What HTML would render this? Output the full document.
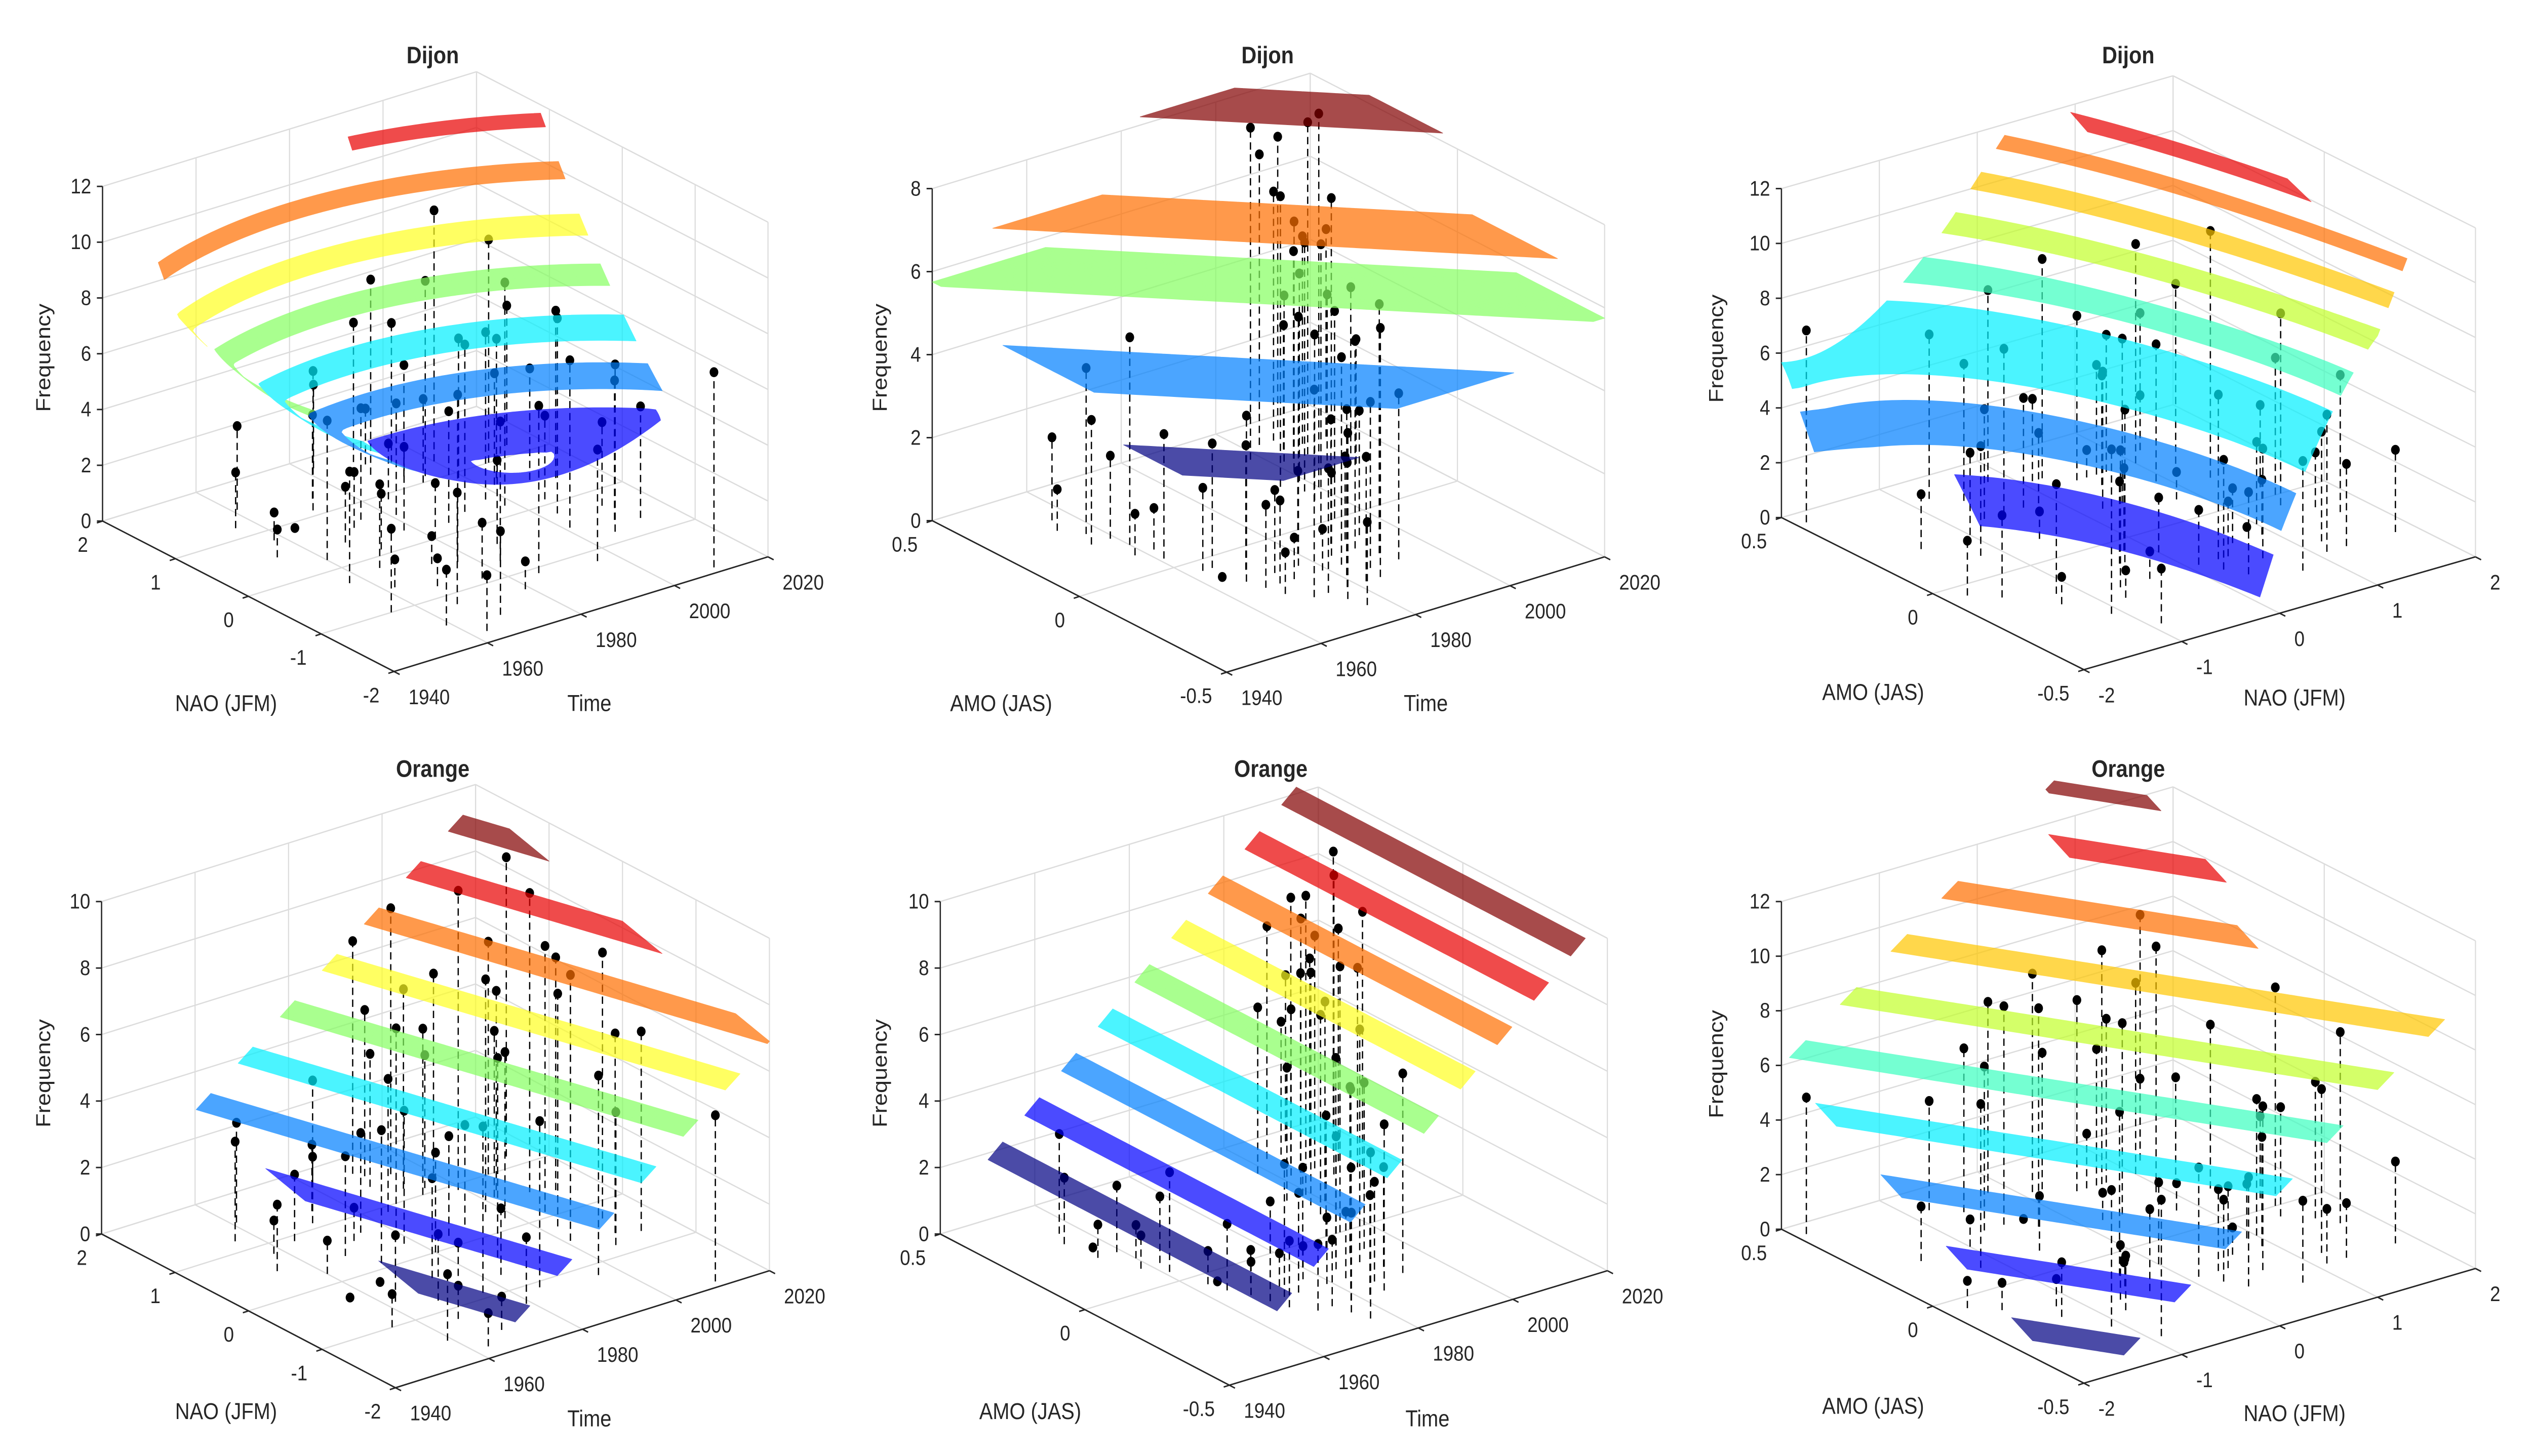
<!DOCTYPE html>
<html><head><meta charset="utf-8">
<style>
html,body{margin:0;padding:0;background:#fff;overflow:hidden;width:100%;height:100%;}
svg{display:block;width:100vw;height:100vh;}
text{font-family:"Liberation Sans",Arial,sans-serif;fill:#262626;}
</style></head>
<body>
<svg id="fig" xmlns="http://www.w3.org/2000/svg" viewBox="0 0 1568 793.6" preserveAspectRatio="none">
<rect x="0" y="0" width="1568" height="793.6" fill="#ffffff"/>
<g id="panels"></g>
<g id="static-text" font-size="12.5">
  <text x="268" y="34.5" text-anchor="middle" font-weight="bold" font-size="13">Dijon</text>
  <text x="785" y="34.5" text-anchor="middle" font-weight="bold" font-size="13">Dijon</text>
  <text x="1318" y="34.5" text-anchor="middle" font-weight="bold" font-size="13">Dijon</text>
  <text x="268" y="423.5" text-anchor="middle" font-weight="bold" font-size="13">Orange</text>
  <text x="787" y="423.5" text-anchor="middle" font-weight="bold" font-size="13">Orange</text>
  <text x="1318" y="423.5" text-anchor="middle" font-weight="bold" font-size="13">Orange</text>

  <text transform="translate(27,195) rotate(-90)" text-anchor="middle" dominant-baseline="central">Frequency</text>
  <text transform="translate(545,195) rotate(-90)" text-anchor="middle" dominant-baseline="central">Frequency</text>
  <text transform="translate(1063,190) rotate(-90)" text-anchor="middle" dominant-baseline="central">Frequency</text>
  <text transform="translate(27,585) rotate(-90)" text-anchor="middle" dominant-baseline="central">Frequency</text>
  <text transform="translate(545,585) rotate(-90)" text-anchor="middle" dominant-baseline="central">Frequency</text>
  <text transform="translate(1063,580) rotate(-90)" text-anchor="middle" dominant-baseline="central">Frequency</text>

  <text x="140" y="387.5" text-anchor="middle">NAO (JFM)</text>
  <text x="365" y="387.5" text-anchor="middle">Time</text>
  <text x="620" y="387.5" text-anchor="middle">AMO (JAS)</text>
  <text x="883" y="387.5" text-anchor="middle">Time</text>
  <text x="1160" y="381.5" text-anchor="middle">AMO (JAS)</text>
  <text x="1421" y="384.5" text-anchor="middle">NAO (JFM)</text>
  <text x="140" y="773.5" text-anchor="middle">NAO (JFM)</text>
  <text x="365" y="777.5" text-anchor="middle">Time</text>
  <text x="638" y="773.5" text-anchor="middle">AMO (JAS)</text>
  <text x="884" y="777.5" text-anchor="middle">Time</text>
  <text x="1160" y="770.5" text-anchor="middle">AMO (JAS)</text>
  <text x="1421" y="774.5" text-anchor="middle">NAO (JFM)</text>
</g>
</svg>
<script>
// ---------- data ----------
const years = [1954,1955,1956,1957,1958,1959,1960,1961,1962,1963,1964,1965,1966,1967,1968,1969,1970,1971,1972,1973,1974,1975,1976,1977,1978,1979,1980,1981,1982,1983,1984,1985,1986,1987,1988,1989,1990,1991,1992,1993,1994,1995,1996,1997,1998,1999,2000,2001,2002,2003,2004,2005,2006,2007,2008,2009,2010,2011,2012,2013,2014];
const naoJFM = [0.5,-1,1.2,-0.3,0.8,-1.5,0.2,1.5,-0.6,-1.8,0.9,-0.2,-1.2,0.4,-0.8,-1.6,0.1,1.1,0.6,-0.4,1.3,0.7,-0.9,-0.5,0.3,-1.3,0.0,0.6,1.8,-0.7,0.9,-1.1,0.2,-0.4,1.4,1.7,1.6,0.3,1.2,1.0,1.5,1.1,-1.2,0.4,0.2,0.9,1.3,-0.5,0.6,-0.2,0.7,0.1,-0.8,1.0,0.5,-0.6,-1.9,-0.3,0.4,-0.7,1.2];
const amoJAS = [0.3,0.2,0.35,0.25,0.1,0.2,0.15,0.05,0.1,-0.05,-0.1,-0.05,-0.15,-0.2,-0.25,-0.1,-0.2,-0.3,-0.15,-0.2,-0.3,-0.35,-0.4,-0.15,-0.3,-0.2,-0.1,-0.25,-0.3,-0.2,-0.15,-0.3,-0.25,-0.1,-0.05,-0.15,-0.1,-0.2,-0.25,-0.1,0.0,0.2,0.1,0.15,0.35,0.2,0.15,0.25,0.3,0.4,0.3,0.35,0.4,0.3,0.25,0.35,0.45,0.2,0.3,0.25,0.35];
const freqDijon = [1,3,2,4,1,2,5,3,1,2,0,3,4,2,1,3,2,5,2,1,3,4,2,6,3,1,2,4,3,5,2,6,4,3,7,5,2,6,4,3,5,7,4,6,8,5,9,6,4,7,5,3,6,8,4,5,7,3,6,4,5];
const freqOrange = [2,1,3,0,1,2,1,3,2,1,2,0,1,3,2,1,4,2,1,3,2,3,5,1,4,2,3,6,3,2,4,5,3,6,4,7,5,3,6,5,8,4,6,7,5,9,6,8,5,7,6,8,4,7,9,6,5,8,7,6,9];

const timeTicks = [1940,1960,1980,2000,2020];
const timeTickLabels = ['1940','1960','1980','2000','2020'];
const naoTicks = [-2,-1,0,1,2];
const naoTickLabels = ['-2','-1','0','1','2'];
const amoTicks = [-0.5,0,0.5];
const amoTickLabels = ['-0.5','0','0.5'];
const freqTicks12 = [0,2,4,6,8,10,12];
const freqTicks10 = [0,2,4,6,8,10];
const freqTicks8 = [0,2,4,6,8];

// ---------- colours (jet) ----------
const C = {navy:'#000083',blue:'#0000ff',dodger:'#0080ff',cyan:'#00f0ff',aqua:'#3cffc0',lgreen:'#85ff60',ygreen:'#c2ff2a',yellow:'#ffff20',gold:'#ffc700',orange:'#ff6f00',red:'#e90000',dred:'#830000'};

const X = {
  time:{vals:years, range:[1940,2020], ticks:timeTicks, labels:timeTickLabels},
  nao:{vals:naoJFM, range:[-2,2], ticks:naoTicks, labels:naoTickLabels},
  amo:{vals:amoJAS, range:[-0.5,0.5], ticks:amoTicks, labels:amoTickLabels}
};

const panels = [
 {key:'dijon-time-nao', F:[244,366], R:[475.6,303.5], L:[63.5,284], zTop:101.6, zmax:12, zt:freqTicks12, xa:'time', ya:'nao', freq:freqDijon,
  mask:(u,v)=>v>=0.3,
  surf:(u,v)=>{const du=u-0.68,dv=v-0.47;return 2.3+12*(du*du+dv*dv)+16*Math.max(0,dv+0.4*du);},
  bands:[[2.4,3.5,C.blue],[4.0,4.7,C.dodger],[5.3,6.0,C.cyan],[6.8,7.4,C.lgreen],[8.2,8.8,C.yellow],[9.8,10.3,C.orange],[11.3,11.7,C.red,null,(u,v)=>u>0.6]]},
 {key:'dijon-time-amo', F:[759.6,366.4], R:[993.7,303.5], L:[577.3,283.8], zTop:102.8, zmax:8, zt:freqTicks8, xa:'time', ya:'amo', freq:freqDijon,
  surf:(u,v)=>u+v,
  bands:[[0.15,0.35,C.navy,4.2],[0.45,0.76,C.dodger,5.1],[0.97,1.3,C.lgreen,5.75],[1.16,1.45,C.orange,6.6],[1.55,1.8,C.dred,8.2]]},
 {key:'dijon-amo-nao', F:[1290.5,365], R:[1533,303.5], L:[1103.2,282.1], zTop:102.8, zmax:12, zt:freqTicks12, xa:'nao', ya:'amo', freq:freqDijon,
  surf:(u,v)=>{const s=u+0.51*v-0.447*u*v;const t=(u-0.38)-(v-0.5)*0.8;const w=Math.min(1,Math.max(0,(0.75-s)/0.25));return 1.3+33.3*(s-0.516)+7.8*t*t*w;},
  bands:[[0.8,2.2,C.blue,null,(u,v)=>u>0.22&&u<0.72&&v<0.75],[3.0,4.2,C.dodger],[4.9,6.8,C.cyan],[7.3,8.0,C.aqua],[8.7,9.3,C.ygreen],[10.0,10.5,C.gold],[11.2,11.6,C.orange,null,(u,v)=>u<0.9],[12.2,12.6,C.red,null,(u,v)=>u>0.66&&u<0.8]]},
 {key:'orange-time-nao', F:[244.9,756.4], R:[476.5,692.6], L:[62.9,672.6], zTop:491.4, zmax:10, zt:freqTicks10, xa:'time', ya:'nao', freq:freqOrange,
  mask:(u,v)=>u>=0.25,
  surf:(u,v)=>-2+8.9*u+2.6*v,
  bands:[[0.85,1.2,C.navy],[1.85,2.2,C.blue],[2.85,3.2,C.dodger],[3.85,4.2,C.cyan],[4.85,5.2,C.lgreen],[5.85,6.2,C.yellow],[6.85,7.2,C.orange],[7.85,8.2,C.red],[8.85,9.2,C.dred]]},
 {key:'orange-time-amo', F:[761.3,755], R:[995.4,692.6], L:[582.3,672.6], zTop:491.4, zmax:10, zt:freqTicks10, xa:'time', ya:'amo', freq:freqOrange,
  surf:(u,v)=>0.5+10.3*u,
  bands:[[1.8,2.2,C.navy],[2.8,3.2,C.blue],[3.8,4.2,C.dodger],[4.8,5.2,C.cyan],[5.8,6.2,C.lgreen],[6.8,7.2,C.yellow],[7.8,8.2,C.orange],[8.8,9.2,C.red],[9.8,10.2,C.dred]]},
 {key:'orange-amo-nao', F:[1290.5,753.9], R:[1533,691.4], L:[1103.2,670], zTop:491.4, zmax:12, zt:freqTicks12, xa:'nao', ya:'amo', freq:freqOrange,
  surf:(u,v)=>-0.5+10.8*(u+0.6*v),
  bands:[[0.6,1.05,C.navy],[2.0,2.45,C.blue],[3.4,3.85,C.dodger],[4.8,5.25,C.cyan],[6.2,6.65,C.aqua],[7.6,8.05,C.ygreen],[9.0,9.45,C.gold],[10.4,10.85,C.orange,null,(u,v)=>u<0.76],[11.8,12.25,C.red,null,(u,v)=>u>0.62&&u<0.8],[13.2,13.5,C.dred,null,(u,v)=>u>0.68&&u<0.8]]}
];

const NS='http://www.w3.org/2000/svg';
function mk(tag,parent){const e=document.createElementNS(NS,tag);parent.appendChild(e);return e;}
function proj(p,u,v,z){
  const H=p.L[1]-p.zTop;
  return [p.F[0]+u*(p.R[0]-p.F[0])+v*(p.L[0]-p.F[0]),
          p.F[1]+u*(p.R[1]-p.F[1])+v*(p.L[1]-p.F[1])-z/p.zmax*H];
}
function uOf(ax,val){const r=X[ax].range;return (val-r[0])/(r[1]-r[0]);}
function line(g,a,b,stroke,w){const l=mk('line',g);l.setAttribute('x1',a[0].toFixed(2));l.setAttribute('y1',a[1].toFixed(2));l.setAttribute('x2',b[0].toFixed(2));l.setAttribute('y2',b[1].toFixed(2));l.setAttribute('stroke',stroke);l.setAttribute('stroke-width',w);return l;}
function clipPoly(poly,val,keepGreater){
  const out=[],n=poly.length;
  for(let i=0;i<n;i++){const A=poly[i],B=poly[(i+1)%n];
    const ia=keepGreater?A[2]>=val:A[2]<=val, ib=keepGreater?B[2]>=val:B[2]<=val;
    if(ia)out.push(A);
    if(ia!==ib){const t=(val-A[2])/(B[2]-A[2]);out.push([A[0]+t*(B[0]-A[0]),A[1]+t*(B[1]-A[1]),val]);}
  }
  return out;
}

const root=document.getElementById('panels');
panels.forEach(p=>{
  const g=mk('g',root);
  
  

  // grid
  const grid=mk('g',g);
  
  
  const gc='#dcdcdc', gw=0.7;
  X[p.xa].ticks.forEach(t=>{const u=uOf(p.xa,t);
    const a=line(grid,proj(p,u,0,0),proj(p,u,1,0),gc,gw);
    
    
    const b=line(grid,proj(p,u,1,0),proj(p,u,1,p.zmax),gc,gw);
    
    });
  X[p.ya].ticks.forEach(t=>{const v=uOf(p.ya,t);
    const a=line(grid,proj(p,0,v,0),proj(p,1,v,0),gc,gw);
    
    
    const b=line(grid,proj(p,1,v,0),proj(p,1,v,p.zmax),gc,gw);
    
    });
  p.zt.forEach(z=>{
    const a=line(grid,proj(p,0,1,z),proj(p,1,1,z),gc,gw);
    
    
    const b=line(grid,proj(p,1,0,z),proj(p,1,1,z),gc,gw);
    
    });

  // axes
  const ax=mk('g',g);
  
  
  const ac='#262626', aw=0.8;
  const xl=line(ax,proj(p,0,0,0),proj(p,1,0,0),ac,aw);
  
  
  const yl=line(ax,proj(p,0,0,0),proj(p,0,1,0),ac,aw);
  
  
  const zl=line(ax,proj(p,0,1,0),proj(p,0,1,p.zmax),ac,aw);
  
  

  X[p.xa].ticks.forEach((t,i)=>{const u=uOf(p.xa,t);const q=proj(p,u,0,0);
    const tk=line(ax,q,[q[0]+3.5,q[1]+1.6],ac,aw);
    
    
    const tx=mk('text',ax);tx.setAttribute('x',(q[0]+9).toFixed(1));tx.setAttribute('y',(q[1]+14).toFixed(1));
    tx.setAttribute('font-size','11.5');tx.setAttribute('dominant-baseline','central');
    tx.textContent=X[p.xa].labels[i];
    
    });
  X[p.ya].ticks.forEach((t,i)=>{const v=uOf(p.ya,t);const q=proj(p,0,v,0);
    const tk=line(ax,q,[q[0]-3.5,q[1]+1],ac,aw);
    
    
    const tx=mk('text',ax);tx.setAttribute('x',(q[0]-9).toFixed(1));tx.setAttribute('y',(q[1]+13).toFixed(1));
    tx.setAttribute('font-size','11.5');tx.setAttribute('text-anchor','end');tx.setAttribute('dominant-baseline','central');
    tx.textContent=X[p.ya].labels[i];
    
    });
  p.zt.forEach(z=>{const q=proj(p,0,1,z);
    const tk=line(ax,q,[q[0]-3.5,q[1]],ac,aw);
    
    
    const tx=mk('text',ax);tx.setAttribute('x',(q[0]-7).toFixed(1));tx.setAttribute('y',q[1].toFixed(1));
    tx.setAttribute('font-size','11.5');tx.setAttribute('text-anchor','end');tx.setAttribute('dominant-baseline','central');
    tx.textContent=String(z);
    
    });

  // stems
  const st=mk('g',g);
  
  
  const xs=X[p.xa].vals, ys=X[p.ya].vals;
  p.freq.forEach((f,i)=>{
    const u=uOf(p.xa,xs[i]), v=uOf(p.ya,ys[i]);
    const a=proj(p,u,v,0), b=proj(p,u,v,f);
    const s=line(st,a,b,'#000',0.8);
    s.setAttribute('stroke-dasharray','4 2.5');
    
    
    const c=mk('circle',st);c.setAttribute('cx',b[0].toFixed(2));c.setAttribute('cy',b[1].toFixed(2));c.setAttribute('r','2.7');c.setAttribute('fill','#000');
    
    
  });

  // surface bands (clipped contour slices)
  const sg=mk('g',g);
  
  
  sg.setAttribute('opacity','0.7');
  const N=80, paths=p.bands.map(()=>[]);
  for(let i=0;i<N;i++)for(let j=0;j<N;j++){
    const u0=i/N,u1=(i+1)/N,v0=j/N,v1=(j+1)/N,uc=(u0+u1)/2,vc=(v0+v1)/2;
    if(p.mask && !p.mask(uc,vc))continue;
    const cell=[[u0,v0],[u1,v0],[u1,v1],[u0,v1]].map(([u,v])=>[u,v,p.surf(u,v)]);
    const mn=Math.min(...cell.map(c=>c[2])), mx=Math.max(...cell.map(c=>c[2]));
    for(let b=0;b<p.bands.length;b++){const B=p.bands[b];
      if(mx<B[0]||mn>B[1])continue;
      if(B[4] && !B[4](uc,vc))continue;
      let poly=clipPoly(cell,B[0],true);
      if(poly.length<3)continue;
      poly=clipPoly(poly,B[1],false);
      if(poly.length<3)continue;
      const pts=poly.map(q=>proj(p,q[0],q[1],(B[3]!=null)?B[3]:Math.min(q[2],p.zmax*1.15)));
      paths[b].push('M'+pts.map(q=>q[0].toFixed(2)+','+q[1].toFixed(2)).join('L')+'Z');
    }
  }
  for(let b=p.bands.length-1;b>=0;b--){
    if(!paths[b].length)continue;
    const pe=mk('path',sg);
    pe.setAttribute('d',paths[b].join(''));
    pe.setAttribute('fill',p.bands[b][2]);
    pe.setAttribute('stroke',p.bands[b][2]);
    pe.setAttribute('stroke-width','0.3');
    pe.setAttribute('stroke-linejoin','round');
    
    
  }
});
</script>
</body></html>
